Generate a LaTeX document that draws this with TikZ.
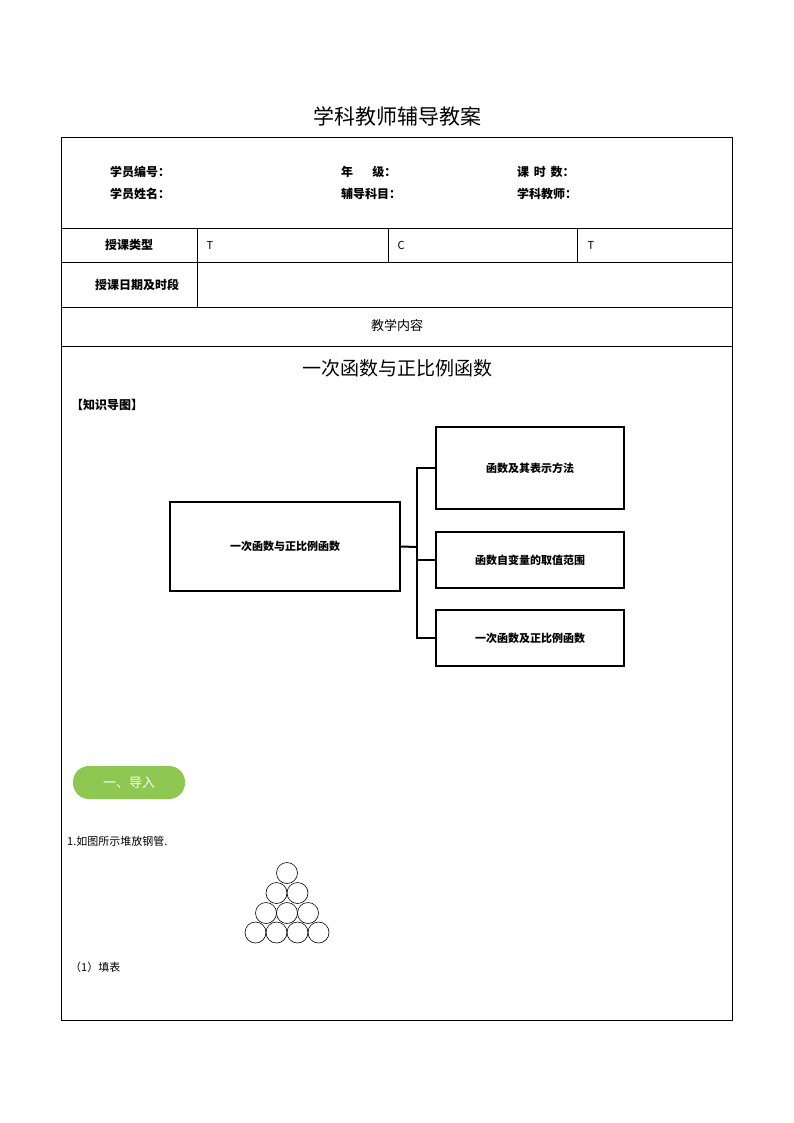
\documentclass[tikz,border=0pt]{standalone}
\usepackage{fontspec}
\setmainfont{Noto Sans CJK SC}
\begin{document}
\begin{tikzpicture}[x=1pt,y=-1pt,
  lbl/.style={font=\fontsize{12}{14}\selectfont\bfseries,inner sep=0},
  mm/.style={draw,line width=2pt,font=\fontsize{11}{13}\selectfont\bfseries,align=center},
  conn/.style={line width=2pt},
  pipe/.style={draw,circle,minimum size=21pt,inner sep=0,line width=0.6pt}]
\useasboundingbox (0,0) rectangle (794,1123);
\node (title) at (397,116) {\fontsize{21}{24}\selectfont 学科教师辅导教案};
\draw[line width=0.8pt] (61.5,137) rectangle (732,1020);
\foreach \y in {228,262,307,346} \draw[line width=0.8pt] (61.5,\y) -- (732,\y);
\draw[line width=0.8pt] (197,228) -- (197,307);
\draw[line width=0.8pt] (388,228) -- (388,262);
\draw[line width=0.8pt] (577,228) -- (577,262);
\node[lbl,anchor=west] (a1) at (110,172) {学员编号：};
\node[lbl,anchor=west] (a2) at (110,194) {学员姓名：};
\node[lbl,anchor=west] (b1) at (341,172) {年\hspace{1.6em}级：};
\node[lbl,anchor=west] (b2) at (341,194) {辅导科目：};
\node[lbl,anchor=west] (c1) at (517,172) {课\,\ 时\,\ 数：};
\node[lbl,anchor=west] (c2) at (517,194) {学科教师：};
\node[lbl] (k1) at (129,245) {授课类型};
\node[lbl] (k2) at (137,285) {授课日期及时段};
\node[anchor=west,font=\fontsize{11}{13}\selectfont] (t1) at (203,245) {T};
\node[anchor=west,font=\fontsize{11}{13}\selectfont] (t2) at (394,245) {C};
\node[anchor=west,font=\fontsize{11}{13}\selectfont] (t3) at (584,245) {T};
\node[lbl,font=\fontsize{13}{15}\selectfont] (jx) at (397,326) {教学内容};
\node (sub) at (397,368) {\fontsize{19}{22}\selectfont 一次函数与正比例函数};
\node[lbl,anchor=west] (zs) at (71,405) {【知识导图】};
\node[mm,minimum width=230pt,minimum height=89pt] (m0) at (285,546.5) {一次函数与正比例函数};
\node[mm,minimum width=188pt,minimum height=82pt] (m1) at (530,468) {函数及其表示方法};
\node[mm,minimum width=188pt,minimum height=56pt] (m2) at (530,560) {函数自变量的取值范围};
\node[mm,minimum width=188pt,minimum height=56pt] (m3) at (530,638) {一次函数及正比例函数};
\coordinate (j) at (417,547);
\draw[conn] (m0.east) -- (j);
\draw[conn] (m1.west) -| (j) |- (m3.west);
\draw[conn] (j |- m2.west) -- (m2.west);
\node[fill={rgb,255:red,142;green,199;blue,82},rounded corners=16pt,minimum width=112pt,minimum height=33pt,text=white,font=\fontsize{13}{15}\selectfont] (pill) at (129,782.5) {一、导入};
\node[anchor=west,font=\fontsize{11}{13}\selectfont,inner sep=0] (q1) at (67,841) {1.如图所示堆放钢管.};
\foreach \i/\x/\y in {1/287/873,2/276.5/893,3/297.5/893,4/266/913,5/287/913,6/308/913,7/255.5/932.5,8/276.5/932.5,9/297.5/932.5,10/318.5/932.5}
  \node[pipe] (p\i) at (\x,\y) {};
\node[anchor=west,font=\fontsize{11}{13}\selectfont,inner sep=0] (q2) at (70,967) {（1）填表};
\end{tikzpicture}
\end{document}
